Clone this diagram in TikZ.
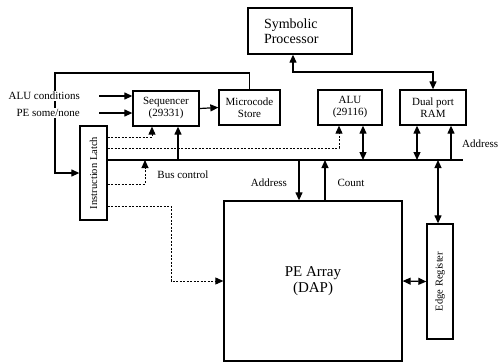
\documentclass[tikz,border=0pt]{standalone}
\usepackage{fontspec}
\usepackage{graphicx}
\setmainfont{Liberation Serif}
\usetikzlibrary{arrows.meta,calc}
\begin{document}
\begin{tikzpicture}[x=1pt,y=-1pt,
  box/.style={draw,line width=1.3pt,inner sep=1pt,align=center,font=\fontsize{11}{12}\selectfont},
  conn/.style={line width=1.2pt},
  arr/.style={conn,-{Triangle[length=8pt,width=7pt]}},
  darr/.style={conn,{Triangle[length=8pt,width=7pt]}-{Triangle[length=8pt,width=7pt]}},
  dsh/.style={line width=0.9pt,dash pattern=on 2pt off 1.5pt},
  lbl/.style={font=\fontsize{11}{12}\selectfont,inner sep=1pt}]
\useasboundingbox (0,0) rectangle (498,362);
% boxes
\node[box,minimum width=104pt,minimum height=46pt,text width=72pt,inner xsep=16pt,align=left,font=\fontsize{14}{15}\selectfont] (sp) at (300,31) {Symbolic\\Processor};
\node[box,minimum width=66pt,minimum height=35pt] (seq) at (166,108.5) {Sequencer\\(29331)};
\node[box,minimum width=61pt,minimum height=35pt] (mcs) at (249.5,107.5) {Microcode\\Store};
\node[box,minimum width=64pt,minimum height=35pt] (alu) at (350,107.5) {ALU\\(29116)};
\node[box,minimum width=66pt,minimum height=35pt] (ram) at (433,107.5) {Dual port\\RAM};
\node[box,minimum width=27pt,minimum height=94pt] (latch) at (93.5,173) {\rotatebox{90}{\fontsize{10.5}{11}\selectfont Instruction Latch}};
\node[box,minimum width=178pt,minimum height=160pt,font=\fontsize{15}{16}\selectfont] (pe) at (313,281) {PE Array\\(DAP)};
\node[box,minimum width=26pt,minimum height=115pt] (edge) at (440,281.5) {\rotatebox{90}{\fontsize{10.5}{11}\selectfont Edge Register}};
% bus
\coordinate (busL) at (107,160);
\coordinate (busR) at (463,160);
\draw[line width=2.6pt] (busL) -- (busR);
% feedback from microcode store to latch
\coordinate (fbL) at (55,73);
\draw[arr] (mcs.north) |- (fbL) |- (latch.west);
% inputs
\coordinate (in1) at (99,96);
\coordinate (in2) at (99,113);
\draw[arr] (in1) -- (in1 -| seq.west);
\draw[arr] (in2) -- (in2 -| seq.west);
\node[lbl,fill=white,anchor=east] (l1) at (81,96) {ALU conditions};
\node[lbl,fill=white,anchor=east] (l2) at (81,113) {PE some/none};
% sequencer -> microcode
\draw[arr] (seq.east) -- (mcs.west);
% symbolic processor <-> RAM
\coordinate (spr) at (293,72);
\draw[darr] (sp.south -| spr) -- (spr) -| (ram.north);
% dashed control lines from latch
\coordinate (d1) at (152,137);
\draw[arr,dsh] (latch.east |- d1) -- (d1) -- (d1 |- seq.south);
\coordinate (d2) at (339,148);
\draw[arr,dsh] (latch.east |- d2) -- (d2) -- (d2 |- alu.south);
\coordinate (d3) at (145,184);
\draw[arr,dsh] (latch.east |- d3) -- (d3) -- (d3 |- busL);
\coordinate (d4) at (171,206);
\draw[arr,dsh] (latch.east |- d4) -- (d4) |- (pe.west);
\node[lbl] (bc) at (183,175) {Bus control};
% bus connections above
\coordinate (b1) at (178,160);
\draw[arr] (b1) -- (b1 |- seq.south);
\coordinate (b2) at (363,160);
\draw[darr] (b2) -- (b2 |- alu.south);
\coordinate (b3) at (417,160);
\draw[darr] (b3) -- (b3 |- ram.south);
\coordinate (b4) at (451,160);
\draw[arr] (b4) -- (b4 |- ram.south);
\node[lbl,anchor=west] (addr1) at (461,144) {Address};
% bus connections below
\coordinate (b5) at (299,160);
\draw[arr] (b5) -- (b5 |- pe.north);
\coordinate (b6) at (325,160);
\draw[arr] (b6 |- pe.north) -- (b6);
\coordinate (b7) at (438,160);
\draw[darr] (b7) -- (b7 |- edge.north);
\node[lbl] (addr2) at (269,183) {Address};
\node[lbl] (cnt) at (351,183) {Count};
% PE <-> edge register
\draw[darr] (pe.east) -- (edge.west);
\end{tikzpicture}
\end{document}
